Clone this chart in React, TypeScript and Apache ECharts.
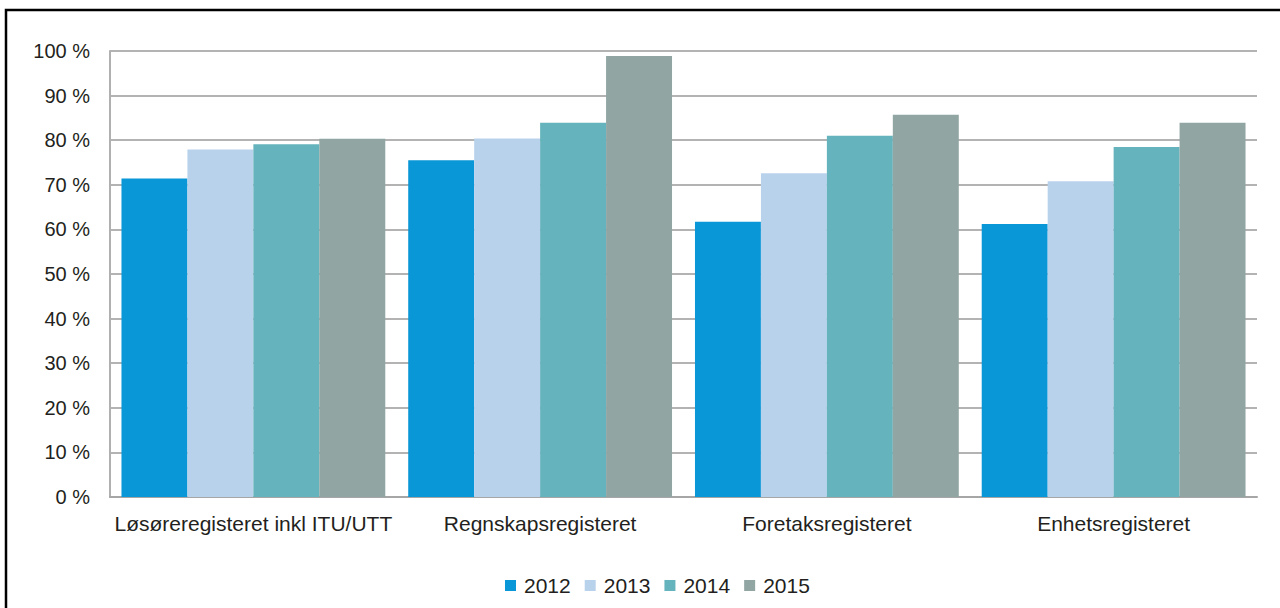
import React, { useEffect, useRef } from "react";
import * as echarts from "echarts";

const categories = [
  "Løsøreregisteret inkl ITU/UTT",
  "Regnskapsregisteret",
  "Foretaksregisteret",
  "Enhetsregisteret",
];
const seriesNames = ["2012", "2013", "2014", "2015"];
const values2012 = [71.4, 75.5, 61.7, 61.2];
const values2013 = [77.9, 80.4, 72.6, 70.8];
const values2014 = [79.1, 83.9, 81.0, 78.5];
const values2015 = [80.3, 98.9, 85.7, 83.9];
const colors = ["#0997d7", "#b9d2ec", "#65b3bc", "#91a5a2"];

export default function App() {
  const ref = useRef<HTMLDivElement>(null);
  useEffect(() => {
    if (!ref.current) return;
    const chart = echarts.init(ref.current, undefined, { renderer: "svg" });
    const data = [values2012, values2013, values2014, values2015];
    const textColor = "#231f20";
    const font = "Arial, 'Liberation Sans', sans-serif";
    chart.setOption({
      animation: false,
      backgroundColor: "#ffffff",
      textStyle: { fontFamily: font },
      graphic: [
        {
          type: "rect",
          shape: { x: 6, y: 10, width: 1400, height: 800 },
          style: { fill: "none", stroke: "#000000", lineWidth: 2.5 },
          silent: true,
        },
      ],
      grid: { left: 110, right: 23, top: 51, bottom: 111 },
      legend: {
        left: 500,
        top: 570,
        itemWidth: 11,
        itemHeight: 11,
        itemGap: 14,
        icon: "rect",
        textStyle: { fontSize: 21, color: textColor, fontFamily: font, padding: [0, 0, 0, 3] },
        data: seriesNames,
      },
      xAxis: {
        type: "category",
        data: categories,
        axisLine: { show: true, lineStyle: { color: "#a6a6a6", width: 2 } },
        axisTick: { show: false },
        axisLabel: { color: textColor, fontSize: 21, margin: 16, fontFamily: font, interval: 0 },
      },
      yAxis: {
        type: "value",
        min: 0,
        max: 100,
        interval: 10,
        axisLine: { show: true, lineStyle: { color: "#b0b0b0", width: 2 } },
        axisTick: { show: false },
        splitLine: { show: true, lineStyle: { color: "#b3b3b3", width: 2 } },
        axisLabel: { color: textColor, fontSize: 20, margin: 20, fontFamily: font, formatter: "{value} %" },
      },
      series: seriesNames.map((name, i) => ({
        name,
        type: "bar",
        data: data[i],
        barGap: "0%",
        barCategoryGap: "8%",
        itemStyle: { color: colors[i] },
      })),
    });
    return () => chart.dispose();
  }, []);
  return (
    <div
      ref={ref}
      style={{ position: "fixed", left: 0, top: 0, width: 1280, height: 608 }}
    />
  );
}
